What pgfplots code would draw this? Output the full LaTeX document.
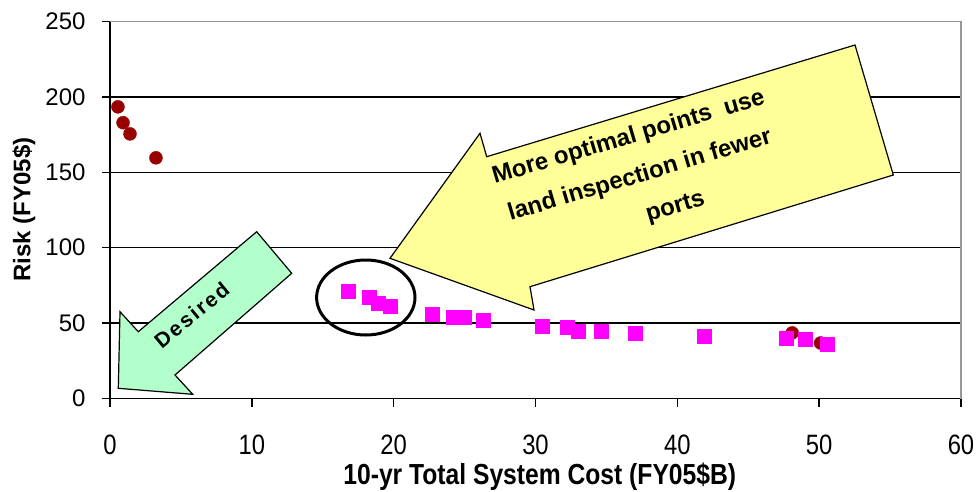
\documentclass[border=0pt]{standalone}
\usepackage{fontspec}
\setmainfont{Liberation Sans}
\newfontfamily\tallfont{Liberation Sans}[FakeStretch=0.85]
\usepackage{pgfplots}
\pgfplotsset{compat=1.18}
\definecolor{dred}{RGB}{153,0,0}
\definecolor{mag}{RGB}{255,0,255}
\definecolor{mint}{RGB}{179,255,204}
\definecolor{lyel}{RGB}{255,255,153}
\definecolor{bordergray}{RGB}{150,150,150}
\begin{document}
\begin{tikzpicture}
\begin{axis}[
  at={(110pt,-398.5pt)}, anchor=south west,
  scale only axis, width=851pt, height=377pt,
  xmin=0, xmax=60, ymin=0, ymax=250,
  xtick={0,10,...,60}, ytick={0,50,...,250},
  axis x line*=bottom, axis y line*=left,
  axis line style={black, line width=1.8pt},
  major tick style={black, line width=1.5pt},
  tick align=outside, major tick length=8pt,
  ymajorgrids, grid style={black, line width=1.4pt},
  /pgf/number format/assume math mode=true,
  yticklabel={\pgfmathprintnumber{\tick}\hspace*{13pt}},
  yticklabel style={font=\fontsize{24}{24}\selectfont, anchor=east},
  xticklabel style={font=\tallfont\fontsize{28}{28}\selectfont, yshift=-25pt},
  xlabel={10-yr Total System Cost (FY05\$B)},
  ylabel={Risk (FY05\$)},
  xlabel style={font=\tallfont\bfseries\fontsize{29}{29}\selectfont, at={(axis description cs:0.505,-0.2075)}, anchor=center},
  ylabel style={font=\bfseries\fontsize{24}{24}\selectfont, at={(axis description cs:-0.101,0.501)}, anchor=center},
  clip=false,
]
\draw[bordergray, line width=1.5pt] (rel axis cs:0,1) -- (rel axis cs:1,1) -- (rel axis cs:1,0);
% dark red series
\addplot[only marks, mark=*, mark size=6.5pt, color=dred] coordinates {
(0.56,193.4) (0.92,182.9) (1.41,175.5) (3.24,159.6) (48.1,43.5) (50.1,36.8)
};
% magenta series
\addplot[only marks, mark=square*, mark size=7pt, color=mag] coordinates {
(16.8,70.9) (18.3,66.9) (18.9,63.2) (19.75,60.9) (22.7,55.9) (24.2,53.6)
(25.0,53.6) (26.3,51.6) (30.5,48.1) (32.2,47.0) (33.0,44.8) (34.6,44.8)
(37.0,43.6) (41.9,41.0) (47.7,39.9) (49.0,39.3) (50.6,36.2)
};
\end{axis}
\begin{scope}[x=1pt,y=-1pt]
\draw[fill=mint, line width=1.2pt, line join=miter] (256.7,231.7) -- (291.7,273.3) -- (175,375) -- (192.7,394.3) -- (118.3,388.3) -- (120,311.7) -- (138.3,331.7) -- cycle;
\node[rotate=39.5, font=\bfseries\fontsize{21}{21}\selectfont\addfontfeature{LetterSpace=10}] at (191.7,315) {Desired};
\draw[fill=lyel, line width=1.2pt, line join=miter] (855,45) -- (893.3,175) -- (530,286.7) -- (534,310) -- (390,258.3) -- (480,133.3) -- (486.7,156.7) -- cycle;
\node[rotate=16.5, align=center, font=\bfseries\fontsize{24}{40}\selectfont] at (640,176) {More optimal points~ use\\land inspection in fewer\\\hspace*{50pt}ports};
\draw[line width=3pt] (365.8,297.5) ellipse [x radius=49.2, y radius=37.5];
\end{scope}
\pgfresetboundingbox
\path (0pt,0pt) rectangle (978pt,-491pt);
\end{tikzpicture}
\end{document}
